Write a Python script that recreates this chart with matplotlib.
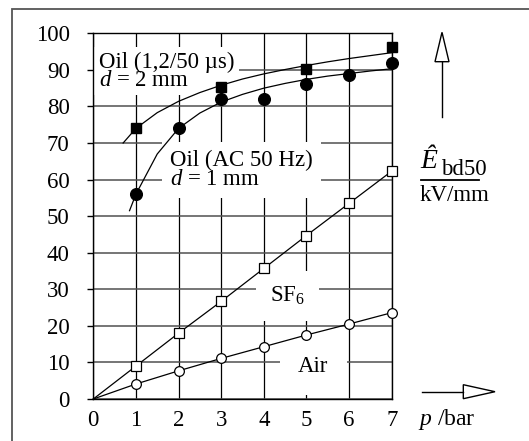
import matplotlib
matplotlib.use("Agg")
import matplotlib.pyplot as plt
from matplotlib.patches import Rectangle, Polygon
from matplotlib.lines import Line2D

plt.rcParams["font.family"] = ["Liberation Serif", "DejaVu Serif"]
plt.rcParams["mathtext.fontset"] = "custom"
plt.rcParams["mathtext.rm"] = "Liberation Serif"
plt.rcParams["mathtext.it"] = "Liberation Serif:italic"

# pressure steps (bar)
pressure = [0, 1, 2, 3, 4, 5, 6, 7]

# breakdown field strength E_bd50 in kV/mm
sf6 = [0, 9.0, 18.0, 26.7, 35.7, 44.7, 53.5, 62.3]
air = [0, 4.1, 7.7, 11.1, 14.3, 17.5, 20.5, 23.6]

oil_imp_p = [1, 3, 5, 7]
oil_imp = [74.0, 85.3, 90.3, 96.3]

oil_ac_p = [1, 2, 3, 4, 5, 6, 7]
oil_ac = [56.0, 74.0, 82.0, 82.0, 86.0, 88.5, 92.0]

# hand-drawn trend curves through the oil measurements
imp_curve_p = [0.7, 1, 1.5, 2, 2.5, 3, 3.5, 4, 4.5, 5, 5.5, 6, 6.5, 7]
imp_curve = [70.0, 74.0, 78.3, 81.4, 83.8, 85.8, 87.5, 88.9, 90.1, 91.2, 92.2, 93.1, 93.9, 94.7]

ac_curve_p = [0.85, 1, 1.5, 2, 2.5, 3, 3.5, 4, 4.5, 5, 5.5, 6, 6.5, 7]
ac_curve = [51.5, 56.0, 67.0, 74.0, 78.2, 81.2, 83.3, 85.0, 86.3, 87.4, 88.3, 89.0, 89.7, 90.3]

xticks = [0, 1, 2, 3, 4, 5, 6, 7]
yticks = [0, 10, 20, 30, 40, 50, 60, 70, 80, 90, 100]

FS = 16.5

W, H = 529, 441
fig = plt.figure(figsize=(W / 100, H / 100), dpi=100)
ax = fig.add_axes([93.3 / W, 1 - 399 / H, (391.7 - 93.3) / W, (399 - 33.3) / H])

ax.set_xlim(0, 7)
ax.set_ylim(0, 100)
ax.set_xticks(xticks)
ax.set_yticks(yticks)
ax.tick_params(axis="y", length=4, width=1, pad=13, labelsize=FS, direction="out")
ax.tick_params(axis="x", length=0, pad=8, labelsize=FS)
ax.set_axisbelow(True)
ax.xaxis.grid(True, color="black", lw=0.9)
ax.yaxis.grid(True, color="#505050", lw=1.1)
for s in ax.spines.values():
    s.set_color("black")
    s.set_linewidth(1.0)

# text labels with white backing that breaks the grid
ax.text(0.13, 95.0, "Oil (1,2/50 µs)\n$d$ = 2 mm", fontsize=FS, ha="left", va="top",
        linespacing=0.8, zorder=2,
        bbox=dict(boxstyle="square,pad=0.2", facecolor="white", edgecolor="none"))
ax.text(1.8, 68.0, "Oil (AC 50 Hz)\n$d$ = 1 mm", fontsize=FS, ha="left", va="top",
        linespacing=0.85, zorder=2,
        bbox=dict(boxstyle="square,pad=0.35", facecolor="white", edgecolor="none"))
ax.text(4.15, 26.6, r"SF$_6$", fontsize=FS, ha="left", va="baseline", zorder=2,
        bbox=dict(boxstyle="square,pad=0.6", facecolor="white", edgecolor="none"))
ax.text(4.8, 7.47, "Air", fontsize=FS, ha="left", va="baseline", zorder=2,
        bbox=dict(boxstyle="square,pad=0.8", facecolor="white", edgecolor="none"))

# curves and measurement points
ax.plot(imp_curve_p, imp_curve, color="black", lw=0.9, zorder=3, clip_on=False)
ax.plot(ac_curve_p, ac_curve, color="black", lw=0.9, zorder=3, clip_on=False)
ax.plot(pressure, sf6, color="black", lw=0.9, zorder=3, marker="s", markersize=6.5,
        markerfacecolor="white", markeredgecolor="black", markeredgewidth=0.9,
        markevery=slice(1, None), clip_on=False)
ax.plot(pressure, air, color="black", lw=0.9, zorder=3, marker="o", markersize=7,
        markerfacecolor="white", markeredgecolor="black", markeredgewidth=0.9,
        markevery=slice(1, None), clip_on=False)
ax.plot(oil_imp_p, oil_imp, ls="none", marker="s", markersize=7.2, color="black",
        zorder=4, clip_on=False)
ax.plot(oil_ac_p, oil_ac, ls="none", marker="o", markersize=8.4, color="black",
        zorder=4, clip_on=False)

# outer frame
fig.patches.append(Rectangle((11.5 / W, -0.1), 1.2, 1.1 - 9.3 / H,
                             transform=fig.transFigure, fill=False,
                             edgecolor="#555555", lw=1.3))

def fx(px):
    return px / W

def fy(py):
    return 1 - py / H

# vertical quantity arrow
ax_x = 442
fig.lines.append(Line2D([fx(ax_x), fx(ax_x)], [fy(117), fy(61.7)], transform=fig.transFigure,
                        color="black", lw=1.0))
fig.patches.append(Polygon([(fx(ax_x - 7), fy(61.7)), (fx(ax_x + 7), fy(61.7)), (fx(ax_x), fy(32.3))],
                           closed=True, transform=fig.transFigure, facecolor="white",
                           edgecolor="black", lw=1.0))

# horizontal quantity arrow
ay = 391.7
fig.lines.append(Line2D([fx(421.7), fx(463.3)], [fy(ay), fy(ay)], transform=fig.transFigure,
                        color="black", lw=1.0))
fig.patches.append(Polygon([(fx(463.3), fy(ay - 7)), (fx(463.3), fy(ay + 7)), (fx(495), fy(ay))],
                           closed=True, transform=fig.transFigure, facecolor="white",
                           edgecolor="black", lw=1.0))

# axis quantity labels
fig.text(fx(420), fy(168), "Ê", fontsize=20, fontstyle="italic", ha="left", va="baseline")
fig.text(fx(441), fy(175), "bd50", fontsize=FS, ha="left", va="baseline")
fig.lines.append(Line2D([fx(420.7), fx(479.3)], [fy(180), fy(180)], transform=fig.transFigure,
                        color="black", lw=1.3))
fig.text(fx(420), fy(201), "kV/mm", fontsize=FS, ha="left", va="baseline")
fig.text(fx(418), fy(425), "$p$ /bar", fontsize=FS + 0.5, ha="left", va="baseline")

fig.savefig("out.png", dpi=100)
